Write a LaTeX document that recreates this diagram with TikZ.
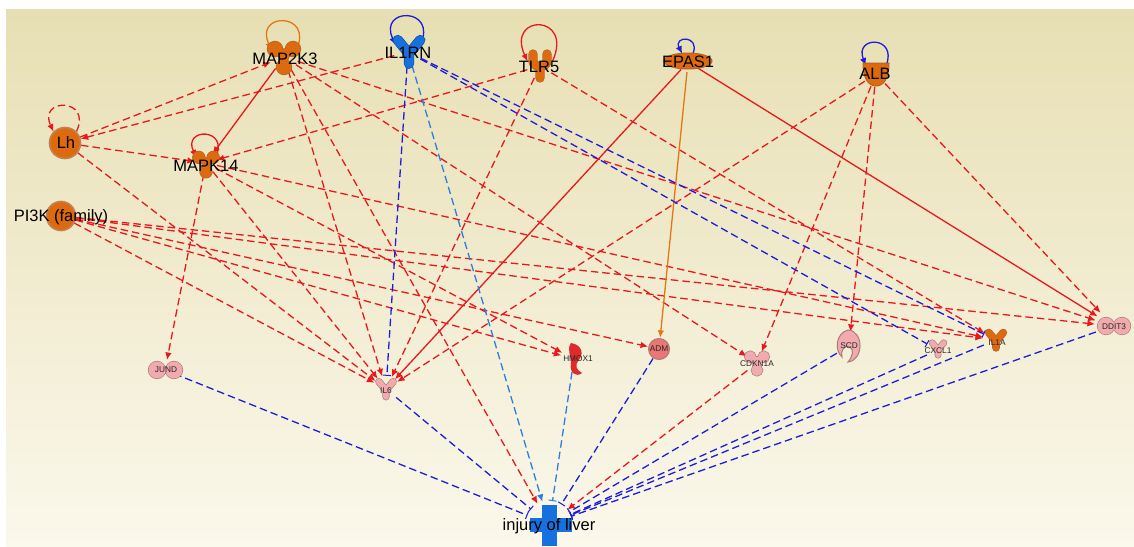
\documentclass[tikz,border=0pt]{standalone}
\usepackage{fontspec}
\setmainfont{Liberation Sans}
\usetikzlibrary{arrows.meta}
\definecolor{ered}{RGB}{232,24,28}
\definecolor{eblue}{RGB}{28,28,218}
\definecolor{lblue}{RGB}{45,125,225}
\definecolor{eorange}{RGB}{230,118,20}
\definecolor{nor}{RGB}{222,106,16}
\definecolor{norb}{RGB}{176,100,40}
\definecolor{npink}{RGB}{241,170,174}
\definecolor{npinkb}{RGB}{172,122,122}
\definecolor{nadm}{RGB}{236,118,118}
\definecolor{nred}{RGB}{222,42,42}
\definecolor{ncblue}{RGB}{22,112,222}
\definecolor{bgtop}{RGB}{231,223,179}
\definecolor{bgbot}{RGB}{251,248,236}
% kinase glyph: #1 position, #2 scale, #3 fill, #4 border
\newcommand\gKinase[4]{%
  \begin{scope}[shift={#1},scale=#2]
    \draw[#4,line width=1.3pt] (-9,-7) circle (7.5) (9,-7) circle (7.5) (0,11) circle (7.5) (-9,-7)--(9,-7)--(0,11)--cycle;
    \fill[#3] (-9,-7) circle (7.5) (9,-7) circle (7.5) (0,11) circle (7.5) (-9,-7)--(9,-7)--(0,11)--cycle;
  \end{scope}}
% cytokine glyph: #1 position, #2 scale, #3 fill, #4 border, #5 width
\newcommand\gCyto[5]{%
  \begin{scope}[shift={#1},scale=#2]
    \draw[#4,line width=#5+1.3pt,line cap=round,line join=round] (-9,-8)--(0,3)--(9,-8) (0,3)--(0,11);
    \draw[#3,line width=#5,line cap=round,line join=round] (-9,-8)--(0,3)--(9,-8) (0,3)--(0,11);
  \end{scope}}
\begin{document}
\begin{tikzpicture}[x=1pt,y=-1pt,
  hub/.style={circle,inner sep=0pt,minimum size=#1},
  big/.style={font=\fontsize{16.5}{18}\selectfont,text=black,inner sep=0pt},
  small/.style={font=\fontsize{8.3}{9}\selectfont,text=black!85,inner sep=0pt},
  edge/.style={line width=1.3pt},
  dsh/.style={dash pattern=on 7.5pt off 4pt},
  tip/.style={-{Latex[length=7.5pt,width=6.5pt]}},
  bar/.style={-{Bar[width=8pt,line width=1pt]}},
  rd/.style={edge,dsh,draw=ered,tip,color=ered},
  rs/.style={edge,draw=ered,tip,color=ered},
  os/.style={edge,draw=eorange,tip,color=eorange},
  bd/.style={edge,dsh,draw=eblue,bar,color=eblue},
  lbd/.style={edge,dsh,draw=lblue,bar,color=lblue},
  lba/.style={edge,dsh,draw=lblue,tip,color=lblue},
  loopr/.style={edge,draw=ered,tip,color=ered},
  loopb/.style={edge,draw=eblue,tip,color=eblue},
  loopo/.style={edge,draw=eorange,tip,color=eorange},
]
\useasboundingbox (0,0) rectangle (1134,546);
\fill[white] (0,0) rectangle (1134,546);
\shade[top color=bgtop,bottom color=bgbot] (6,9) rectangle (1134,546);

% hubs (invisible node anchors)
\node[hub=28] (map2k3) at (284,57) {};
\node[hub=28] (il1rn) at (408,52) {};
\node[hub=26] (tlr5) at (540,66) {};
\node[hub=20] (epas1) at (688,62) {};
\node[hub=26] (alb) at (876,74) {};
\node[hub=32] (lh) at (65,143) {};
\node[hub=22] (mapk14) at (206,163) {};
\node[hub=30] (pi3k) at (61,216) {};
\node[hub=20] (jund) at (165,370) {};
\node[hub=26] (il6) at (386,389) {};
\node[hub=26] (hmox1) at (574,359) {};
\node[hub=22] (adm) at (659,349) {};
\node[hub=24] (cdkn1a) at (757,363) {};
\node[hub=28] (scd) at (849,346) {};
\node[hub=24] (cxcl1) at (938,350) {};
\node[hub=26] (il1a) at (996,340) {};
\node[hub=36] (ddit3) at (1113,326) {};
\node[hub=46] (injury) at (549,524) {};

% self loops
\draw[loopo] (map2k3.30) .. controls +(18,-38) and +(-18,-38) .. (map2k3.150);
\draw[loopb] (il1rn.30) .. controls +(18,-38) and +(-18,-38) .. (il1rn.150);
\draw[loopr] (tlr5.20) .. controls +(22,-48) and +(-22,-48) .. (tlr5.160);
\draw[loopb] (epas1.60) .. controls +(7,-18) and +(-9,-18) .. (epas1.125);
\draw[loopb] (alb.40) .. controls +(12,-30) and +(-12,-30) .. (alb.140);
\draw[loopr,dsh] (lh.45) .. controls +(16,-34) and +(-16,-34) .. (lh.135);
\draw[loopr] (mapk14.30) .. controls +(14,-30) and +(-14,-30) .. (mapk14.150);

% red dashed activations
\draw[rd] (lh) -- (map2k3);
\draw[rd] (il1rn) -- (lh);
\draw[rd] (lh) -- (mapk14);
\draw[rd] (lh) -- (il6);
\draw[rd] (tlr5) -- (mapk14);
\draw[rd] (map2k3) -- (il6);
\draw[rd] (map2k3) -- (injury);
\draw[rd] (map2k3) -- (cdkn1a);
\draw[rd] (map2k3) -- (ddit3);
\draw[rd] (mapk14) -- (jund);
\draw[rd] (mapk14) -- (il6);
\draw[rd] (mapk14) -- (hmox1);
\draw[rd] (mapk14) -- (il1a);
\draw[rd] (pi3k) -- (il6);
\draw[rd] (pi3k) -- (hmox1);
\draw[rd] (pi3k) -- (adm);
\draw[rd] (pi3k) -- (il1a);
\draw[rd] (pi3k) -- (ddit3);
\draw[rd] (tlr5) -- (il6);
\draw[rd] (tlr5) -- (il1a);
\draw[rd] (alb) -- (il6);
\draw[rd] (alb) -- (cdkn1a);
\draw[rd] (alb) -- (scd);
\draw[rd] (alb) -- (ddit3);
\draw[rd] (cdkn1a) -- (injury);
% solid
\draw[rs] (map2k3) -- (mapk14);
\draw[rs] (epas1) -- (il6);
\draw[rs] (epas1) -- (ddit3);
\draw[os] (epas1) -- (adm);
% blue dashed
\draw[bd] (il1rn) -- (il6);
\draw[bd] (il1rn) -- (cxcl1);
\draw[bd] (il1rn) -- (il1a);
\draw[bd] (jund) -- (injury);
\draw[bd] (il6) -- (injury);
\draw[bd] (adm) -- (injury);
\draw[bd] (scd) -- (injury);
\draw[bd] (cxcl1) -- (injury);
\draw[bd] (il1a) -- (injury);
\draw[bd] (ddit3) -- (injury);
\draw[lba] (il1rn) -- (injury);
\draw[lbd] (hmox1) -- (injury);

% glyphs
\gKinase{(284,56)}{1}{nor}{norb}
\gKinase{(206,163)}{0.8}{nor}{norb}
\gKinase{(757,362)}{0.75}{npink}{npinkb}
\gCyto{(409,50)}{1.25}{ncblue}{ncblue!70!black}{9pt}
\gCyto{(386,388)}{0.8}{npink}{npinkb}{6pt}
\gCyto{(938,348)}{0.65}{npink}{npinkb}{5.5pt}
\gCyto{(996,339)}{0.8}{nor}{norb}{6.5pt}
% TLR5
\draw[norb,line width=9.3pt,line cap=round,line join=round] (533,54) -- (533,61) .. controls (533,68) and (547,68) .. (547,61) -- (547,54) (540,67) -- (540,78);
\draw[nor,line width=8pt,line cap=round,line join=round] (533,54) -- (533,61) .. controls (533,68) and (547,68) .. (547,61) -- (547,54) (540,67) -- (540,78);
% EPAS1
\filldraw[fill=nor,draw=norb,line width=1pt] (688,61) ellipse (24 and 8);
% ALB
\filldraw[fill=nor,draw=norb,line width=1pt] (863,63) -- (889,63) .. controls (889,78) and (884,86) .. (876,86) .. controls (868,86) and (863,78) .. (863,63) -- cycle;
% Lh, PI3K
\filldraw[fill=nor,draw=norb!80!white,line width=1.6pt] (65,143) circle (15.5);
\filldraw[fill=nor,draw=norb!80!white,line width=1.6pt] (61,216) circle (14.5);
% JUND, DDIT3
\draw[npinkb,line width=1.2pt] (157,370) circle (8.5) (174,370) circle (8.5);
\fill[npink] (157,370) circle (8.5) (174,370) circle (8.5);
\draw[npinkb,line width=1.2pt] (1106,326) circle (8.5) (1122,326) circle (8.5);
\fill[npink] (1106,326) circle (8.5) (1122,326) circle (8.5);
% ADM
\filldraw[fill=nadm,draw=npinkb,line width=1pt] (659,349) circle (10.5);
% HMOX1
\fill[nred] (571,343) .. controls (583,345) and (584,355) .. (578,361) .. controls (575,365) and (576,370) .. (582,373) .. controls (576,378) and (569,372) .. (571,364) .. controls (572,357) and (566,350) .. (571,343) -- cycle;
% SCD
\filldraw[fill=npink,draw=npinkb,line width=1pt] (848,330) .. controls (864,331) and (864,360) .. (848,362) .. controls (853,356) and (854,350) .. (850,347) .. controls (844,344) and (840,352) .. (842,357) .. controls (834,350) and (836,333) .. (848,330) -- cycle;
% injury of liver (cross)
\fill[ncblue] (542,505) rectangle (557,546);
\fill[ncblue] (530,518) rectangle (572,532);

% labels
\node[big] (t1) at (285,59) {MAP2K3};
\node[big] (t2) at (408,53) {IL1RN};
\node[big] (t3) at (539,67) {TLR5};
\node[big] (t4) at (688,62) {EPAS1};
\node[big] (t5) at (875,74) {ALB};
\node[big] (t6) at (66,143) {Lh};
\node[big] (t7) at (206,166) {MAPK14};
\node[big] (t8) at (61,217) {PI3K (family)};
\node[big] (t9) at (549,526) {injury of liver};
\node[small] (s1) at (166,370) {JUND};
\node[small] (s2) at (386,391) {IL6};
\node[small] (s3) at (578,359) {HMOX1};
\node[small] (s4) at (659,349) {ADM};
\node[small] (s5) at (757,364) {CDKN1A};
\node[small] (s6) at (849,346) {SCD};
\node[small] (s7) at (938,351) {CXCL1};
\node[small] (s8) at (997,343) {IL1A};
\node[small] (s9) at (1114,327) {DDIT3};
\end{tikzpicture}
\end{document}
